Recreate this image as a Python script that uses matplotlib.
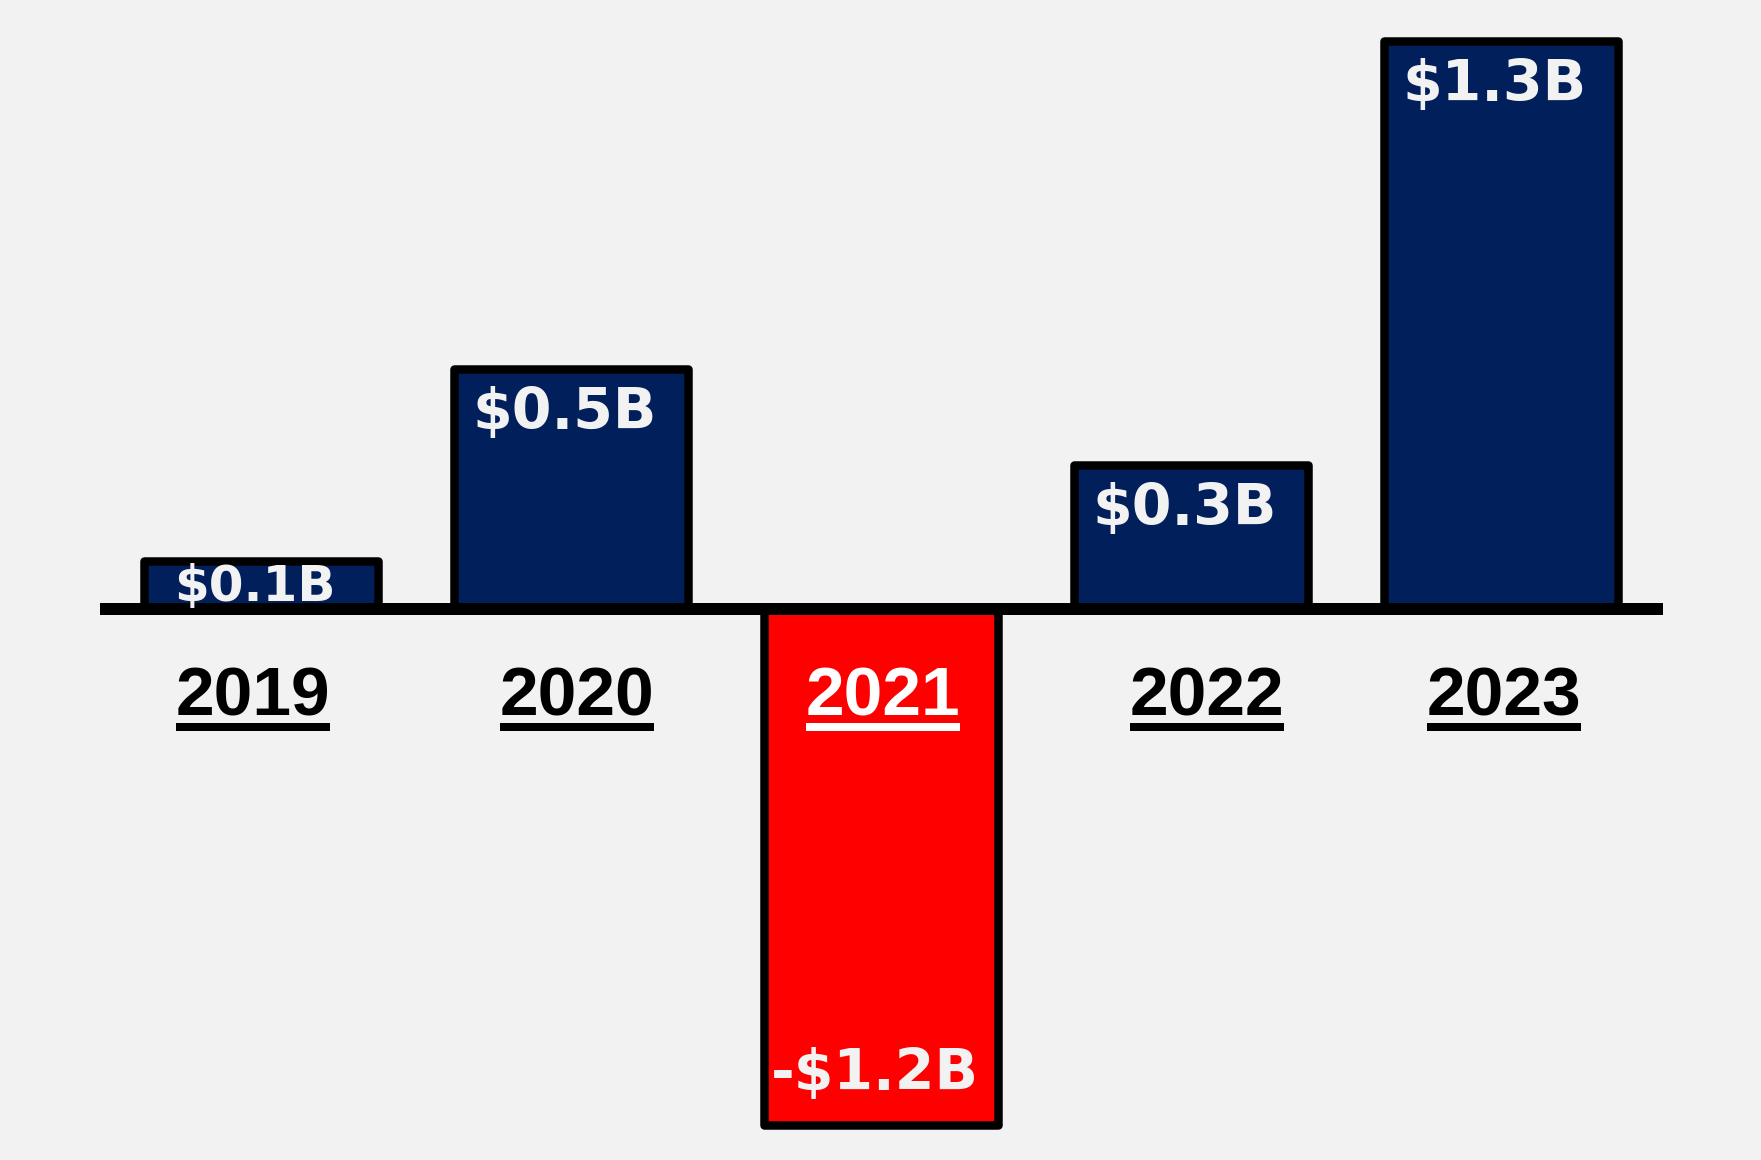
import matplotlib
matplotlib.use('Agg')
import matplotlib.pyplot as plt

# ---- data ----
years = ['2019', '2020', '2021', '2022', '2023']
values = [0.11, 0.55, -1.18, 0.33, 1.30]          # $B
value_labels = ['$0.1B', '$0.5B', '-$1.2B', '$0.3B', '$1.3B']

# ---- style / layout ----
W, H, DPI = 1761, 1160, 100
BG = '#F2F2F2'
NAVY = '#001F5B'
RED = '#FF0000'
PX = 72.0 / DPI  # points per pixel

fig = plt.figure(figsize=(W / DPI, H / DPI), dpi=DPI, facecolor=BG)
ax = fig.add_axes([0, 0, 1, 1])
ax.set_facecolor(BG)
ax.set_axis_off()

x_scale, x0 = 310.0, 261.0      # px per category, px of first center
y_scale, y0 = 437.0, 609.0      # px per $B, px (from top) of zero line
ax.set_xlim(-x0 / x_scale, (W - x0) / x_scale)
ax.set_ylim(-(H - y0) / y_scale, y0 / y_scale)

xs = list(range(len(years)))
colors = [NAVY if v >= 0 else RED for v in values]
bars = ax.bar(xs, values, width=0.755, color=colors, edgecolor='black',
              linewidth=8.5 * PX, zorder=2)
for b in bars:
    b.set_joinstyle('round')

# zero line
ax.hlines(0, (100 - x0) / x_scale, (1663 - x0) / x_scale, color='black',
          linewidth=12 * PX, zorder=3, capstyle='butt')

# value labels inside bars
for x, v, lab in zip(xs, values, value_labels):
    small = abs(v) < 0.2
    if v >= 0:
        dy = -(40 if small else 60)
    else:
        dy = 35
    ax.annotate(lab, (x, v), xytext=(-6 * PX, dy * PX), textcoords='offset points',
                ha='center', va='baseline', color=BG,
                fontsize=(36 if small else 41), fontweight='bold',
                family='DejaVu Sans', zorder=5, annotation_clip=False,
                parse_math=False)

# year labels
label_dx = [-8, 6, 2, 16, 3]   # px nudges
year_texts = []
for x, y, v, dx in zip(xs, years, values, label_dx):
    col = 'white' if v < 0 else 'black'
    t = ax.annotate(y, (x, 0), xytext=(dx * PX, -106 * PX), textcoords='offset points',
                    ha='center', va='baseline', color=col, fontsize=50,
                    fontweight='bold', family='Liberation Sans', zorder=5)
    year_texts.append((t, col))

# underlines
fig.canvas.draw()
r = fig.canvas.get_renderer()
inv = ax.transData.inverted()
zero_disp = ax.transData.transform((0, 0))[1]
for t, col in year_texts:
    bb = t.get_window_extent(r)
    yl = zero_disp - 106 - 12
    (xa, ya) = inv.transform((bb.x0, yl))
    (xb, _) = inv.transform((bb.x1, yl))
    ax.plot([xa, xb], [ya, ya], color=col, linewidth=8 * PX,
            solid_capstyle='butt', zorder=5)

fig.savefig('out.png', dpi=DPI, facecolor=BG)
